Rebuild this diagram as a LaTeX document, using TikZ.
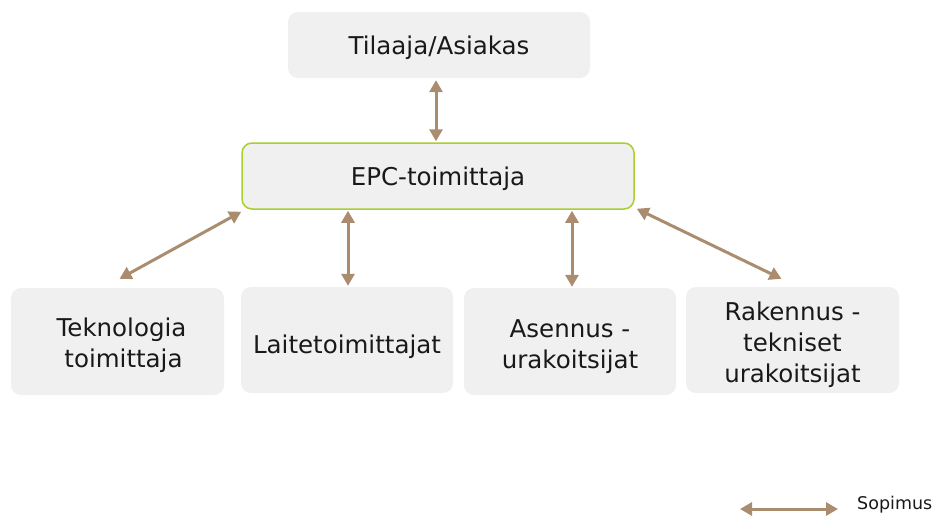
\documentclass[tikz,border=0pt]{standalone}
\usepackage{fontspec}
\setmainfont{DejaVu Sans}
\usetikzlibrary{arrows.meta,calc}
\definecolor{boxfill}{HTML}{F0F0F0}
\definecolor{epcgreen}{HTML}{A8CF2A}
\definecolor{arrowbrown}{HTML}{AA8C6E}
\newcommand{\dn}[2]{\raisebox{-#1}[\height][\depth]{#2}}
\tikzset{
  box/.style={fill=boxfill, rounded corners=10pt, inner sep=0pt, align=center,
    font=\fontsize{24.5}{31}\selectfont, text=black!90},
  sopimus/.style={draw=arrowbrown, line width=3pt,
    {Triangle[width=13pt,length=12pt]}-{Triangle[width=13pt,length=12pt]}},
}
\begin{document}
\begin{tikzpicture}[x=1pt,y=-1pt]
\useasboundingbox (0,0) rectangle (935,515);
\node[box, minimum width=302pt, minimum height=66pt] (tilaaja) at (439,45) {\dn{3pt}{Tilaaja/Asiakas}};
\node[box, draw=epcgreen, line width=1.5pt, minimum width=392pt, minimum height=66pt] (epc) at (438,176) {\dn{3pt}{EPC-toimittaja}};
\node[box, minimum width=213pt, minimum height=107pt] (tek) at (117.5,341.5) {\dn{4pt}{\hspace*{8pt}Teknologia}\\\dn{4pt}{\hspace*{12pt}toimittaja}};
\node[box, minimum width=212pt, minimum height=106pt] (laite) at (347,340) {\dn{7pt}{Laitetoimittajat}};
\node[box, minimum width=212pt, minimum height=107pt] (asennus) at (570,341.5) {\dn{5pt}{Asennus -}\\\dn{5pt}{urakoitsijat}};
\node[box, minimum width=213pt, minimum height=106pt] (rak) at (792.5,340) {\dn{5pt}{Rakennus -}\\\dn{5pt}{tekniset}\\\dn{5pt}{urakoitsijat}};

\draw[sopimus] ($(tilaaja.south)+(-3,2)$) -- ($(epc.north)+(-2,-1)$);
\draw[sopimus] ($(epc.south west)+(0,2)$) -- ($(tek.north)+(2,-9)$);
\draw[sopimus] ($(laite.north)+(1,-1)$) -- ($(laite.north |- epc.south)+(1,1)$);
\draw[sopimus] ($(asennus.north)+(2,-1)$) -- ($(asennus.north |- epc.south)+(2,1)$);
\draw[sopimus] ($(epc.south east)+(2,-1)$) -- ($(rak.north)+(-11,-8)$);

\coordinate (legA) at (740,509);
\coordinate (legB) at (838,509);
\draw[sopimus] (legA) -- (legB);
\node[anchor=west, inner sep=0pt, font=\fontsize{17.5}{20}\selectfont, text=black!90] (leg) at (857,505) {Sopimus};
\end{tikzpicture}
\end{document}
